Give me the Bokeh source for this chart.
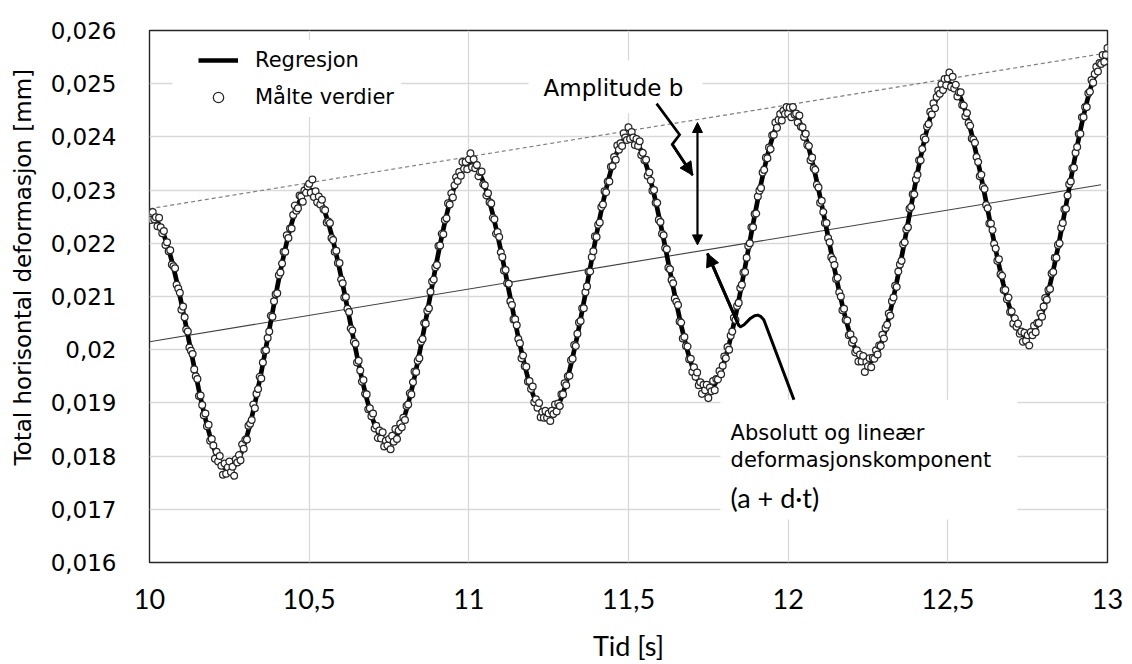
import numpy as np
from bokeh.plotting import figure
from bokeh.models import (Range1d, FixedTicker, CustomJSTickFormatter, Legend, LegendItem,
                          Label, Arrow, NormalHead)
from bokeh.embed import file_html
from bokeh.resources import INLINE

# ---------------- data ----------------
x_ticks = [10, 10.5, 11, 11.5, 12, 12.5, 13]
y_ticks = [0.016, 0.017, 0.018, 0.019, 0.020, 0.021, 0.022, 0.023, 0.024, 0.025, 0.026]

x_title = "Tid [s]"
y_title = "Total horisontal deformasjon [mm]"
legend_labels = ["Regresjon", "Målte verdier"]

# measured values (micrometres = 0.001 mm), sampled every 0.005 s from t = 10 s
t_start = 10.0
dt = 0.005
maalte_um = [
    22.53, 22.44, 22.59, 22.45, 22.49, 22.32, 22.48, 22.30, 22.19, 22.23,
    21.97, 22.02, 21.85, 21.87, 21.60, 21.57, 21.53, 21.22, 21.15, 21.07,
    20.75, 20.81, 20.61, 20.38, 20.34, 20.04, 19.98, 19.92, 19.63, 19.50,
    19.45, 19.13, 19.14, 18.96, 18.77, 18.80, 18.56, 18.59, 18.29, 18.32,
    18.20, 17.95, 18.08, 17.90, 18.00, 17.82, 17.65, 17.86, 17.67, 17.79,
    17.90, 17.70, 17.80, 17.63, 17.94, 17.88, 18.02, 17.92, 18.22, 18.14,
    18.31, 18.31, 18.57, 18.61, 18.68, 18.97, 18.90, 19.17, 19.26, 19.49,
    19.46, 19.76, 19.98, 19.99, 20.22, 20.34, 20.64, 20.62, 20.91, 21.04,
    21.06, 21.40, 21.45, 21.62, 21.84, 21.84, 22.15, 22.10, 22.28, 22.28,
    22.53, 22.71, 22.61, 22.66, 22.90, 22.88, 22.78, 22.99, 22.95, 23.07,
    23.12, 22.95, 23.20, 22.87, 22.98, 22.77, 22.88, 22.73, 22.82, 22.64,
    22.62, 22.39, 22.41, 22.38, 22.10, 22.06, 21.84, 21.86, 21.63, 21.63,
    21.32, 21.25, 20.98, 20.99, 20.77, 20.71, 20.40, 20.36, 20.15, 20.11,
    19.76, 19.79, 19.61, 19.40, 19.43, 19.17, 19.16, 18.88, 18.90, 18.75,
    18.80, 18.52, 18.57, 18.34, 18.48, 18.33, 18.45, 18.18, 18.29, 18.20,
    18.32, 18.13, 18.38, 18.27, 18.51, 18.32, 18.48, 18.61, 18.54, 18.72,
    18.68, 18.94, 18.97, 19.18, 19.16, 19.39, 19.59, 19.58, 19.79, 19.84,
    20.15, 20.20, 20.50, 20.49, 20.73, 20.78, 21.09, 21.28, 21.32, 21.55,
    21.59, 21.95, 21.96, 22.18, 22.17, 22.44, 22.47, 22.75, 22.73, 22.94,
    22.86, 23.09, 23.24, 23.17, 23.34, 23.27, 23.53, 23.40, 23.53, 23.39,
    23.58, 23.69, 23.43, 23.58, 23.41, 23.47, 23.26, 23.34, 23.35, 23.11,
    23.09, 22.90, 22.94, 22.77, 22.75, 22.48, 22.45, 22.18, 22.21, 22.12,
    21.83, 21.74, 21.49, 21.50, 21.25, 21.24, 20.91, 20.84, 20.57, 20.57,
    20.46, 20.20, 20.12, 19.84, 19.89, 19.69, 19.68, 19.40, 19.41, 19.26,
    19.31, 19.01, 19.07, 18.91, 19.00, 18.73, 18.83, 18.72, 18.85, 18.72,
    18.80, 18.66, 18.85, 18.79, 18.97, 18.84, 18.99, 18.94, 19.16, 19.16,
    19.37, 19.33, 19.50, 19.51, 19.80, 19.83, 20.09, 20.07, 20.30, 20.51,
    20.54, 20.78, 20.78, 21.08, 21.19, 21.47, 21.47, 21.74, 21.85, 22.13,
    22.12, 22.35, 22.39, 22.68, 22.73, 22.98, 22.96, 23.16, 23.16, 23.44,
    23.45, 23.62, 23.57, 23.84, 23.76, 23.88, 23.83, 24.07, 23.99, 23.94,
    24.18, 23.96, 24.09, 23.99, 23.85, 23.96, 23.83, 23.92, 23.66, 23.70,
    23.56, 23.57, 23.27, 23.33, 23.18, 22.99, 23.00, 22.76, 22.76, 22.44,
    22.40, 22.18, 22.15, 21.91, 21.89, 21.54, 21.51, 21.31, 21.25, 20.96,
    20.90, 20.84, 20.53, 20.51, 20.21, 20.24, 20.07, 20.06, 19.82, 19.83,
    19.58, 19.67, 19.49, 19.57, 19.33, 19.39, 19.17, 19.34, 19.24, 19.34,
    19.09, 19.29, 19.22, 19.41, 19.24, 19.45, 19.44, 19.60, 19.54, 19.70,
    19.87, 19.84, 20.05, 20.00, 20.26, 20.34, 20.60, 20.56, 20.82, 20.88,
    21.16, 21.22, 21.45, 21.46, 21.73, 21.95, 22.00, 22.30, 22.30, 22.55,
    22.56, 22.88, 22.99, 23.04, 23.33, 23.38, 23.61, 23.60, 23.80, 23.77,
    24.03, 24.04, 24.27, 24.17, 24.32, 24.43, 24.31, 24.49, 24.43, 24.56,
    24.44, 24.55, 24.37, 24.56, 24.42, 24.44, 24.27, 24.40, 24.19, 24.18,
    24.00, 24.06, 23.85, 23.83, 23.56, 23.61, 23.41, 23.38, 23.10, 23.05,
    22.76, 22.80, 22.59, 22.38, 22.38, 22.10, 22.02, 21.74, 21.69, 21.59,
    21.33, 21.35, 21.08, 21.00, 20.74, 20.77, 20.56, 20.55, 20.27, 20.29,
    20.13, 20.18, 19.95, 19.99, 19.78, 19.91, 19.78, 19.88, 19.58, 19.77,
    19.69, 19.84, 19.67, 19.85, 19.83, 19.99, 19.91, 20.08, 20.07, 20.28,
    20.21, 20.41, 20.47, 20.68, 20.64, 20.91, 20.98, 21.20, 21.18, 21.47,
    21.60, 21.67, 21.98, 22.02, 22.26, 22.30, 22.65, 22.68, 22.92, 22.92,
    23.20, 23.29, 23.56, 23.56, 23.77, 23.99, 23.95, 24.19, 24.24, 24.47,
    24.42, 24.63, 24.54, 24.75, 24.87, 24.81, 24.99, 24.88, 25.09, 24.97,
    25.10, 25.21, 24.94, 25.13, 24.91, 24.98, 24.76, 24.84, 24.84, 24.60,
    24.59, 24.39, 24.45, 24.26, 24.21, 23.97, 23.95, 23.89, 23.62, 23.53,
    23.26, 23.29, 23.06, 23.02, 22.72, 22.66, 22.37, 22.37, 22.25, 21.99,
    21.90, 21.67, 21.70, 21.42, 21.39, 21.12, 21.12, 20.95, 20.98, 20.71,
    20.72, 20.49, 20.59, 20.43, 20.49, 20.30, 20.34, 20.15, 20.32, 20.17,
    20.27, 20.08, 20.33, 20.27, 20.45, 20.33, 20.50, 20.50, 20.68, 20.62,
    20.81, 20.97, 20.94, 21.12, 21.14, 21.43, 21.46, 21.73, 21.73, 21.97,
    22.00, 22.29, 22.38, 22.64, 22.65, 22.90, 23.11, 23.16, 23.41, 23.42,
    23.70, 23.81, 24.06, 24.06, 24.37, 24.37, 24.56, 24.56, 24.82, 24.85,
    25.07, 25.02, 25.18, 25.32, 25.23, 25.39, 25.37, 25.54, 25.41, 25.54,
    25.67,
]

# regression model  y = a + d*t + b*cos(2*pi*(t - t_peak)/period)   [mm, s]
reg_a = 0.010
reg_d = 0.001
reg_b = 0.0025
reg_period = 0.5
reg_t_peak = 10.0

# illustrative lines (micrometres)
amp_line_t = [10.0, 12.98]
amp_line_um = [22.65, 25.56]
lin_line_t = [10.0, 12.98]
lin_line_um = [20.15, 23.10]

# ---------------- derived ----------------
t_meas = t_start + dt * np.arange(len(maalte_um))
y_meas = np.array(maalte_um) / 1000.0
t_reg = np.linspace(x_ticks[0], x_ticks[-1], 1501)
y_reg = reg_a + reg_d * t_reg + reg_b * np.cos(2 * np.pi * (t_reg - reg_t_peak) / reg_period)

VERD = "DejaVu Sans"
CALI = "Lato"
UM = 0.001  # micrometre -> mm

p = figure(width=1132, height=664, output_backend="svg", toolbar_location=None,
           x_range=Range1d(10, 13), y_range=Range1d(0.016, 0.026),
           min_border_left=149, min_border_right=25, min_border_top=30, min_border_bottom=101)
p.background_fill_color = "white"
p.border_fill_color = "white"
p.outline_line_color = "#262626"
p.outline_line_width = 1.4

p.xaxis.ticker = FixedTicker(ticks=x_ticks)
p.yaxis.ticker = FixedTicker(ticks=y_ticks)
p.xgrid.ticker = FixedTicker(ticks=x_ticks)
p.ygrid.ticker = FixedTicker(ticks=y_ticks)
p.grid.grid_line_color = "#d9d9d9"
p.grid.grid_line_width = 1.3

p.xaxis.formatter = CustomJSTickFormatter(code="return tick.toFixed(1).replace(/\\.0$/, '').replace('.', ',');")
p.yaxis.formatter = CustomJSTickFormatter(code="return tick.toFixed(3).replace(/0+$/, '').replace('.', ',');")

for ax in (p.xaxis[0], p.yaxis[0]):
    ax.axis_line_color = None
    ax.major_tick_line_color = None
    ax.minor_tick_line_color = None
    ax.major_label_text_color = "black"
    ax.axis_label_text_color = "black"
    ax.axis_label_text_font_style = "normal"

p.xaxis.axis_label = x_title
p.xaxis.major_label_text_font = CALI
p.xaxis.major_label_text_font_size = "27px"
p.xaxis.major_label_standoff = 20
p.xaxis.axis_label_text_font = CALI
p.xaxis.axis_label_text_font_size = "27px"
p.xaxis.axis_label_standoff = 17
p.yaxis.major_label_text_font = VERD
p.yaxis.major_label_text_font_size = "23px"
p.yaxis.major_label_standoff = 27
# leading no-break spaces lift the centred title slightly, as in the original
p.yaxis.axis_label = "\u00a0" * 8 + y_title
p.yaxis.axis_label_text_font = VERD
p.yaxis.axis_label_text_font_size = "23px"
p.yaxis.axis_label_standoff = 12

# white backgrounds behind the legend edge and the annotation texts
p.quad(left=[10.072, 11.187, 11.788], right=[10.14, 11.732, 12.718],
       top=[25.775 * UM, 25.437 * UM, 19.058 * UM],
       bottom=[24.349 * UM, 24.443 * UM, 16.807 * UM],
       fill_color="white", line_color=None)

# illustrative lines
p.line(amp_line_t, np.array(amp_line_um) * UM, line_color="#7f7f7f", line_width=1.2, line_dash="4 3")
p.line(lin_line_t, np.array(lin_line_um) * UM, line_color="#404040", line_width=1.1)

reg_r = p.line(t_reg, y_reg, line_color="black", line_width=4.7)
pts_r = p.scatter(t_meas, y_meas, marker="circle", size=6.8, fill_color="white",
                  line_color="#262626", line_width=1.25)

legend = Legend(items=[LegendItem(label=legend_labels[0], renderers=[reg_r]),
                       LegendItem(label=legend_labels[1], renderers=[pts_r])],
                location=(42, 445))
legend.label_text_font = VERD
legend.label_text_font_size = "21px"
legend.label_text_color = "black"
legend.glyph_width = 40
legend.glyph_height = 26
legend.label_height = 26
legend.spacing = 11
legend.padding = 7
legend.margin = 0
legend.label_standoff = 17
legend.border_line_alpha = 0
legend.background_fill_color = "white"
legend.background_fill_alpha = 1
p.add_layout(legend)

# amplitude lightning arrow
amp_path_t = [11.588, 11.660, 11.637, 11.701]
amp_path_um = [24.625, 24.04, 23.86, 23.28]
p.line(amp_path_t, np.array(amp_path_um) * UM, line_color="black", line_width=2.7, line_join="miter")
p.add_layout(Arrow(end=NormalHead(size=13, fill_color="black", line_color="black"),
                   x_start=amp_path_t[2], y_start=amp_path_um[2] * UM,
                   x_end=amp_path_t[3], y_end=amp_path_um[3] * UM,
                   line_color="black", line_width=2.7))

# double arrow (amplitude b)
p.add_layout(Arrow(start=NormalHead(size=10, fill_color="black", line_color="black"),
                   end=NormalHead(size=10, fill_color="black", line_color="black"),
                   x_start=11.716, y_start=21.97 * UM, x_end=11.716, y_end=24.27 * UM,
                   line_color="black", line_width=2.2))

# arrow to the linear component
lin_path_t = [12.018, 11.924, 11.915, 11.905, 11.895, 11.880, 11.862, 11.851, 11.845, 11.747]
lin_path_um = [19.06, 20.56, 20.62, 20.65, 20.64, 20.58, 20.47, 20.43, 20.46, 21.81]
p.line(lin_path_t, np.array(lin_path_um) * UM, line_color="black", line_width=3, line_join="round")
p.add_layout(Arrow(end=NormalHead(size=13, fill_color="black", line_color="black"),
                   x_start=lin_path_t[-2], y_start=lin_path_um[-2] * UM,
                   x_end=lin_path_t[-1], y_end=lin_path_um[-1] * UM,
                   line_color="black", line_width=3))

# texts
p.add_layout(Label(x=11.234, y=24.912 * UM, text="Amplitude b", text_font=VERD,
                   text_font_size="23px", text_color="black",
                   text_align="left", text_baseline="middle"))
p.add_layout(Label(x=11.8196, y=18.439 * UM, text="Absolutt og lineær", text_font=VERD,
                   text_font_size="21px", text_color="black",
                   text_align="left", text_baseline="middle"))
p.add_layout(Label(x=11.8196, y=17.932 * UM, text="deformasjonskomponent", text_font=VERD,
                   text_font_size="21px", text_color="black",
                   text_align="left", text_baseline="middle"))
p.add_layout(Label(x=11.8196, y=17.22 * UM, text="(a + d·t)", text_font=CALI,
                   text_font_size="27px", text_color="black",
                   text_align="left", text_baseline="middle"))

open("out.html", "w").write(file_html(p, INLINE))
